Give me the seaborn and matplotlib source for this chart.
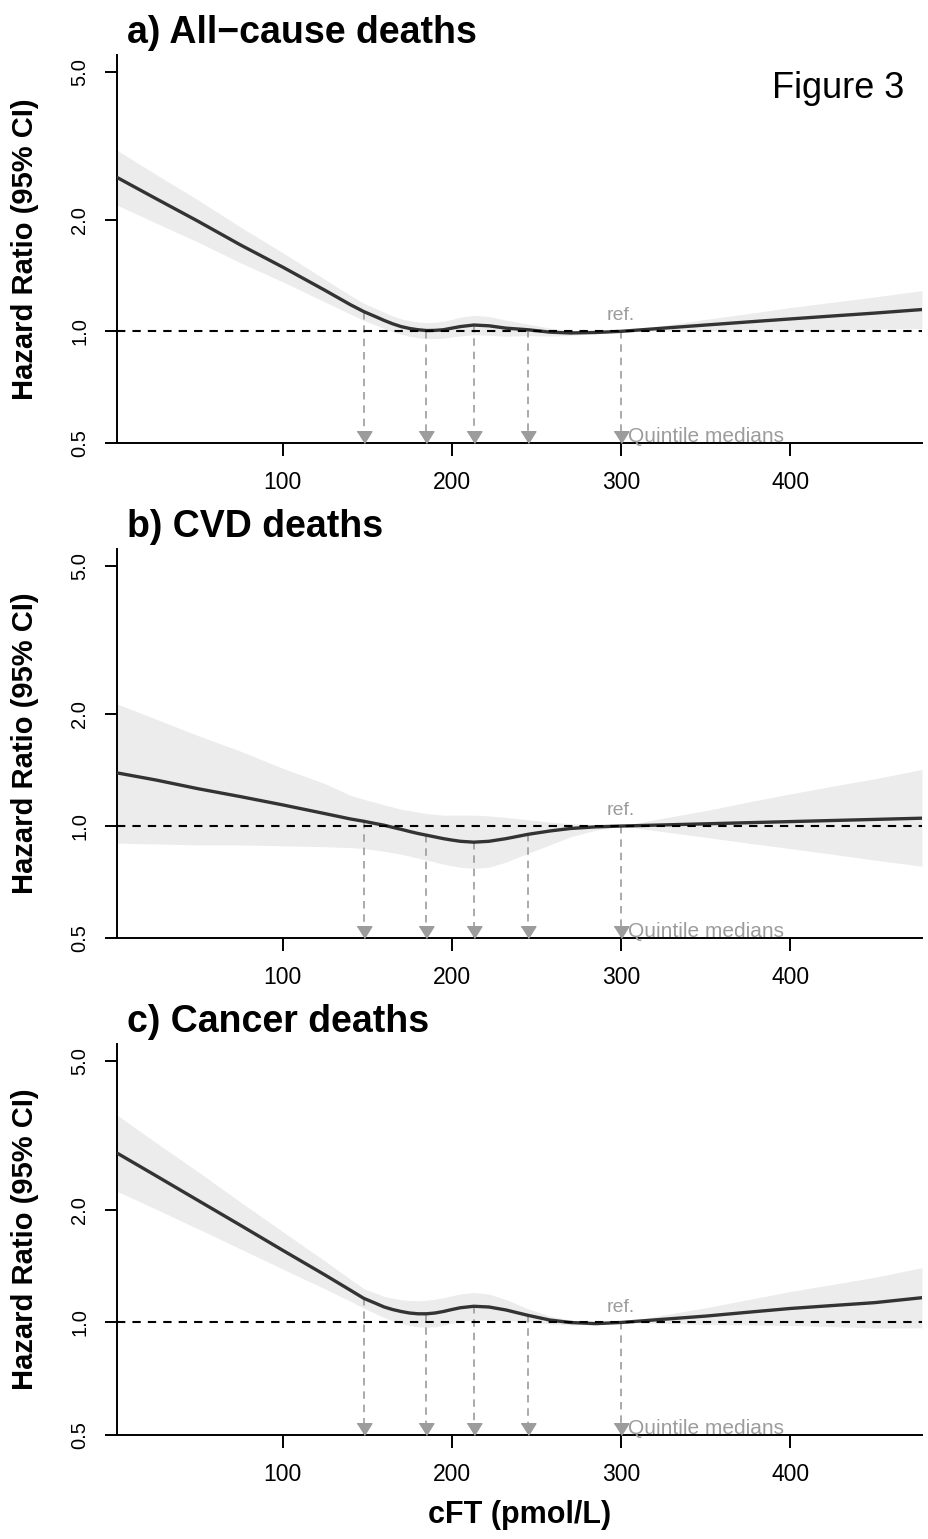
import matplotlib
matplotlib.use("Agg")
import matplotlib.pyplot as plt
import seaborn as sns

# cFT grid (pmol/L) used to read the curves off the figure
cft = [2, 25, 50, 75, 100, 125, 140, 148, 155, 160, 165, 170, 175, 180, 185, 190, 195, 200,
       205, 213, 222, 232, 245, 258, 270, 285, 300, 325, 350, 375, 400, 425, 450, 478]

# a) all-cause deaths
hr_all = [2.60, 2.28, 1.98, 1.71, 1.49, 1.29, 1.18, 1.13, 1.095, 1.07, 1.048, 1.03, 1.018, 1.01,
          1.005, 1.006, 1.01, 1.02, 1.03, 1.04, 1.035, 1.02, 1.01, 0.995, 0.99, 0.993, 1.0,
          1.02, 1.04, 1.06, 1.08, 1.10, 1.12, 1.145]
hi_all = [3.08, 2.65, 2.26, 1.91, 1.63, 1.38, 1.25, 1.19, 1.153, 1.125, 1.10, 1.08, 1.069, 1.06,
          1.056, 1.058, 1.065, 1.077, 1.092, 1.104, 1.097, 1.072, 1.046, 1.02, 1.005, 1.0, 1.0,
          1.037, 1.077, 1.116, 1.159, 1.198, 1.238, 1.288]
lo_all = [2.19, 1.96, 1.74, 1.53, 1.36, 1.20, 1.113, 1.07, 1.04, 1.018, 0.998, 0.982, 0.97, 0.961,
          0.956, 0.956, 0.958, 0.966, 0.972, 0.979, 0.976, 0.970, 0.975, 0.971, 0.975, 0.986, 1.0,
          1.003, 1.004, 1.007, 1.007, 1.010, 1.014, 1.018]

# b) CVD deaths
hr_cvd = [1.39, 1.33, 1.26, 1.20, 1.14, 1.08, 1.045, 1.03, 1.015, 1.005, 0.992, 0.98, 0.967, 0.955,
          0.945, 0.935, 0.925, 0.917, 0.91, 0.905, 0.91, 0.925, 0.95, 0.97, 0.985, 0.995, 1.0,
          1.007, 1.014, 1.021, 1.028, 1.035, 1.042, 1.05]
hi_cvd = [2.13, 1.94, 1.75, 1.59, 1.43, 1.30, 1.21, 1.18, 1.157, 1.14, 1.125, 1.11, 1.10, 1.09,
          1.08, 1.075, 1.07, 1.07, 1.07, 1.07, 1.065, 1.055, 1.04, 1.025, 1.015, 1.005, 1.0,
          1.05, 1.10, 1.16, 1.22, 1.28, 1.34, 1.42]
lo_cvd = [0.90, 0.895, 0.89, 0.89, 0.885, 0.88, 0.875, 0.87, 0.862, 0.855, 0.848, 0.84, 0.83, 0.82,
          0.81, 0.80, 0.79, 0.782, 0.775, 0.77, 0.775, 0.80, 0.845, 0.89, 0.935, 0.975, 1.0,
          0.966, 0.933, 0.90, 0.87, 0.84, 0.81, 0.78]

# c) cancer deaths
hr_can = [2.84, 2.47, 2.12, 1.82, 1.56, 1.34, 1.22, 1.16, 1.125, 1.10, 1.083, 1.07, 1.06, 1.055,
          1.055, 1.06, 1.07, 1.083, 1.095, 1.105, 1.10, 1.08, 1.045, 1.015, 1.0, 0.993, 1.0,
          1.02, 1.04, 1.065, 1.09, 1.11, 1.13, 1.165]
hi_can = [3.59, 3.03, 2.53, 2.10, 1.75, 1.46, 1.305, 1.232, 1.198, 1.174, 1.161, 1.150, 1.145, 1.143,
          1.147, 1.154, 1.165, 1.179, 1.192, 1.203, 1.191, 1.152, 1.088, 1.040, 1.015, 1.0, 1.0,
          1.047, 1.095, 1.151, 1.21, 1.264, 1.321, 1.402]
lo_can = [2.245, 2.01, 1.78, 1.574, 1.39, 1.23, 1.14, 1.092, 1.056, 1.031, 1.01, 0.995, 0.981, 0.974,
          0.971, 0.973, 0.983, 0.994, 1.006, 1.015, 1.016, 1.012, 1.004, 0.990, 0.985, 0.986, 1.0,
          0.994, 0.988, 0.985, 0.982, 0.975, 0.967, 0.968]

quintile_medians = [148, 185, 213, 245, 300]
titles = ["a) All\u2212cause deaths", "b) CVD deaths", "c) Cancer deaths"]
yticks = [0.5, 1.0, 2.0, 5.0]
ytick_labels = ["0.5", "1.0", "2.0", "5.0"]
xticks = [100, 200, 300, 400]

panels = [(hr_all, lo_all, hi_all), (hr_cvd, lo_cvd, hi_cvd), (hr_can, lo_can, hi_can)]

sns.set_theme(style="ticks")
plt.rcParams["font.family"] = ["Liberation Sans", "DejaVu Sans"]
plt.rcParams["text.color"] = "black"
plt.rcParams["axes.labelcolor"] = "black"

fig = plt.figure(figsize=(9.29, 15.39), dpi=100)
H = 1539.0
# (top px, bottom px) of each panel
rows = [(55, 443), (549, 938), (1044, 1435)]
grey = "#9c9c9c"
tri = [(-1, 1.6), (1, 1.6), (0, 0)]

for i, (hr, lo, hi) in enumerate(panels):
    top, bot = rows[i]
    ax = fig.add_axes([117 / 929, 1 - bot / H, 805 / 929, (bot - top) / H])
    ax.set_yscale("log")
    ax.fill_between(cft, lo, hi, color="#ececec", lw=0, zorder=1)
    sns.lineplot(x=cft, y=hr, ax=ax, color="#333333", linewidth=2.4, errorbar=None, zorder=3)
    ax.axhline(1.0, color="black", lw=1.5, ls=(0, (4, 3.4)), zorder=4)

    for m in quintile_medians:
        v = hr[cft.index(m)]
        ax.plot([m, m], [v, 0.5], color=grey, lw=1.2, ls=(0, (4.5, 3.5)), zorder=2)
        ax.plot([m], [0.5], marker=tri, ms=17, color=grey, ls="none", clip_on=False, zorder=5)

    ax.text(300, 1.07, "ref.", color=grey, fontsize=14, ha="center", va="baseline")
    ax.text(304, 0.503, "Quintile medians", color=grey, fontsize=15, ha="left", va="baseline")

    ax.set_xlim(2, 478)
    ax.set_ylim(0.5, 5.56)
    ax.set_yticks(yticks)
    ax.set_yticklabels(ytick_labels)
    ax.minorticks_off()
    ax.set_xticks(xticks)
    ax.tick_params(axis="x", length=9, width=1.4, pad=11, labelsize=16.5, colors="black")
    ax.tick_params(axis="y", length=9, width=1.4, pad=11, labelsize=14.5, labelrotation=90, colors="black")
    for lab in ax.get_yticklabels():
        lab.set_va("center")
    sns.despine(ax=ax)
    for s in ["left", "bottom"]:
        ax.spines[s].set_linewidth(1.4)
        ax.spines[s].set_color("black")

    ax.set_ylabel("Hazard Ratio (95% CI)", fontsize=21, fontweight="bold")
    ax.yaxis.set_label_coords(-0.097, 0.5)
    ax.text(0.012, 1.031, titles[i], transform=ax.transAxes, fontsize=27,
            fontweight="bold", ha="left", va="baseline")
    if i == 0:
        ax.text(0.8957, 0.889, "Figure 3", transform=ax.transAxes, fontsize=26,
                ha="center", va="baseline")
    if i == 2:
        ax.set_xlabel("cFT (pmol/L)", fontsize=22, fontweight="bold")
        ax.xaxis.set_label_coords(0.5, -0.166)
    else:
        ax.set_xlabel("")

fig.savefig("out.png", dpi=100)
